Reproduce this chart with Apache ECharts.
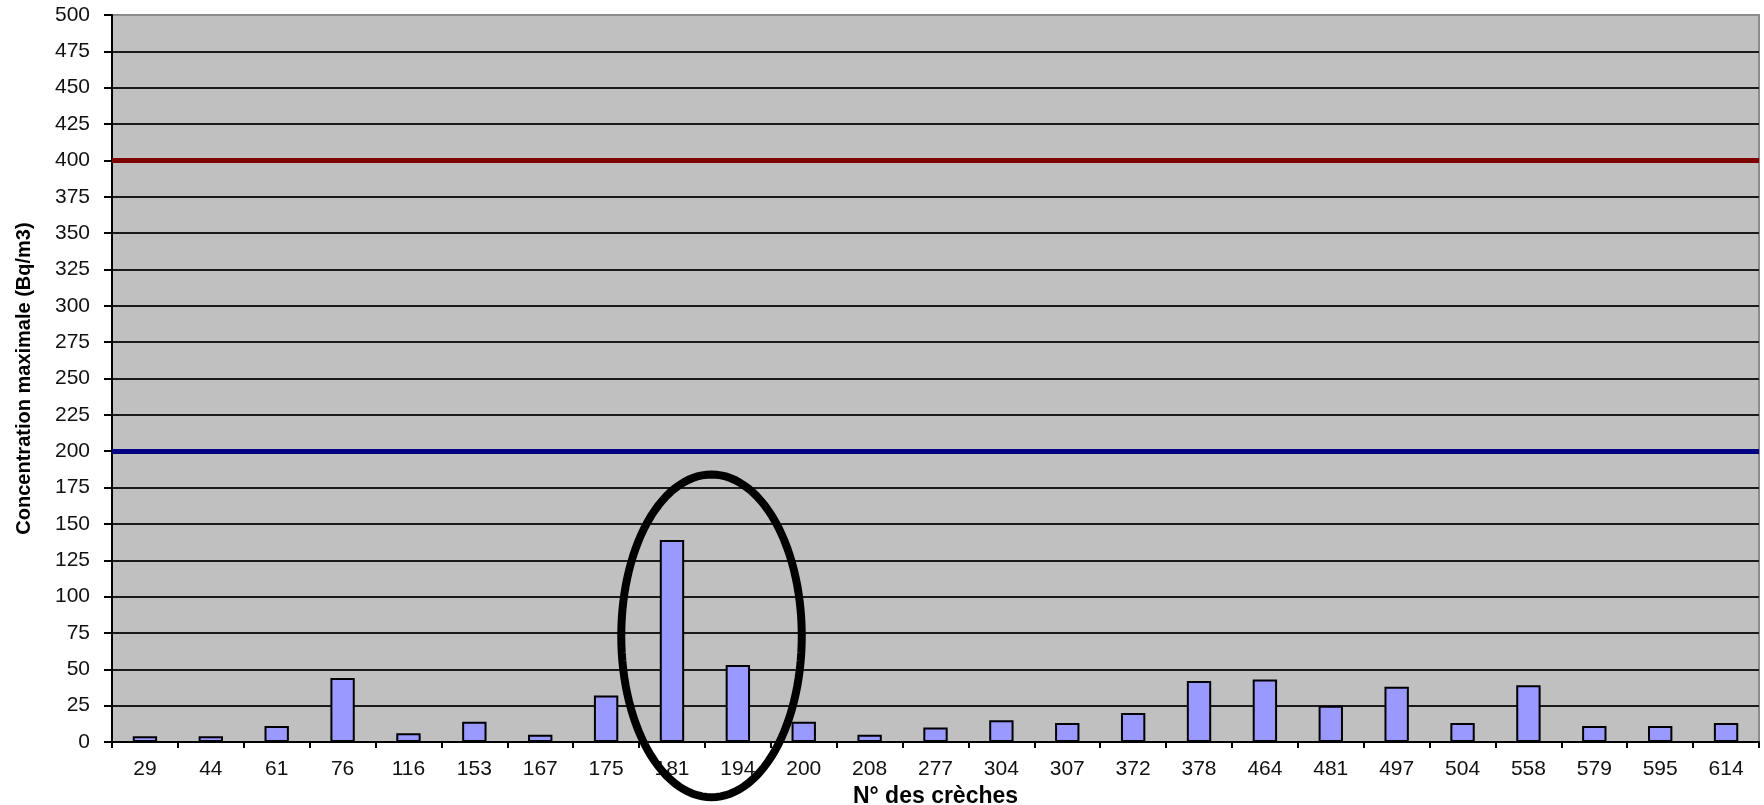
<!DOCTYPE html>
<html>
<head>
<meta charset="utf-8">
<script src="https://cdn.jsdelivr.net/npm/echarts@6/dist/echarts.min.js"></script>
<style>
html,body{margin:0;padding:0;background:#fff;}
#c{width:1764px;height:805px;}
</style>
</head>
<body>
<div id="c"></div>
<script>
const categories = ['29','44','61','76','116','153','167','175','181','194','200','208','277','304','307','372','378','464','481','497','504','558','579','595','614'];
const values = [4,4,11,44,6,14,5,32,139,53,14,5,10,15,13,20,42,43,25,38,13,39,11,11,13];
const yTicks = {min: 0, max: 500, interval: 25};
const limitHigh = 400;
const limitLow = 200;
const xTitle = 'N° des crèches';
const yTitle = 'Concentration maximale (Bq/m3)';

const chart = echarts.init(document.getElementById('c'), null, {renderer: 'canvas'});
const font = 'Arial, "Liberation Sans", sans-serif';

chart.setOption({
  animation: false,
  backgroundColor: '#fff',
  grid: {
    left: 112, right: 5, top: 15, bottom: 63,
    outerBoundsMode: 'none',
    containLabel: false,
    show: true, backgroundColor: '#c0c0c0', borderColor: '#8c8c8c', borderWidth: 2
  },
  xAxis: {
    type: 'category',
    data: categories,
    boundaryGap: true,
    name: xTitle,
    nameLocation: 'middle',
    nameGap: 42,
    nameTextStyle: {fontFamily: font, fontWeight: 'bold', fontSize: 23, color: '#000'},
    axisLine: {lineStyle: {color: '#000', width: 2}},
    axisTick: {show: true, alignWithLabel: false, length: 6, lineStyle: {color: '#000', width: 2}},
    axisLabel: {fontFamily: font, fontSize: 21, color: '#111', margin: 17, interval: 0},
    splitLine: {show: false}
  },
  yAxis: {
    type: 'value',
    min: yTicks.min, max: yTicks.max, interval: yTicks.interval,
    name: yTitle,
    nameLocation: 'middle',
    nameGap: 78,
    nameRotate: 90,
    nameTextStyle: {fontFamily: font, fontWeight: 'bold', fontSize: 20, color: '#000'},
    axisLine: {show: true, lineStyle: {color: '#000', width: 2}},
    axisTick: {show: true, inside: false, length: 8, lineStyle: {color: '#000', width: 2}},
    axisLabel: {fontFamily: font, fontSize: 21, color: '#111', margin: 22},
    splitLine: {show: true, showMinLine: false, showMaxLine: false, lineStyle: {color: '#1a1a1a', width: 2}}
  },
  series: [{
    type: 'bar',
    data: values,
    barWidth: '37%',
    itemStyle: {color: '#9999ff', borderColor: '#000', borderWidth: 2},
    markLine: {
      silent: true,
      symbol: ['none', 'none'],
      label: {show: false},
      z: 5,
      data: [
        {yAxis: limitHigh, lineStyle: {color: '#800000', width: 5, type: 'solid'}},
        {yAxis: limitLow, lineStyle: {color: '#000080', width: 5, type: 'solid'}}
      ]
    }
  }]
});

// Annotation ellipse around creches 181 and 194 (positioned in data units)
const ellipseCenterCat = 8.6;
const ellipseCenterVal = 73;
const ellipseHalfCats = 1.37;
const ellipseHalfVal = 111;
const p8 = chart.convertToPixel({xAxisIndex: 0, yAxisIndex: 0}, [8, 0]);
const p9 = chart.convertToPixel({xAxisIndex: 0, yAxisIndex: 0}, [9, 0]);
const catW = p9[0] - p8[0];
const cx = p8[0] + (ellipseCenterCat - 8) * catW;
const cy = chart.convertToPixel({yAxisIndex: 0}, ellipseCenterVal);
const y0 = chart.convertToPixel({yAxisIndex: 0}, 0);
const yTop = chart.convertToPixel({yAxisIndex: 0}, ellipseHalfVal);
const rx = ellipseHalfCats * catW;
const ry = y0 - yTop;
const pts = [];
for (let i = 0; i < 120; i++) {
  const a = i / 120 * Math.PI * 2;
  pts.push([cx + rx * Math.cos(a), cy + ry * Math.sin(a)]);
}
chart.setOption({
  graphic: [{
    type: 'polygon',
    z: 100,
    shape: {points: pts, smooth: 0},
    style: {fill: 'none', stroke: '#000', lineWidth: 8}
  }]
});
</script>
</body>
</html>
